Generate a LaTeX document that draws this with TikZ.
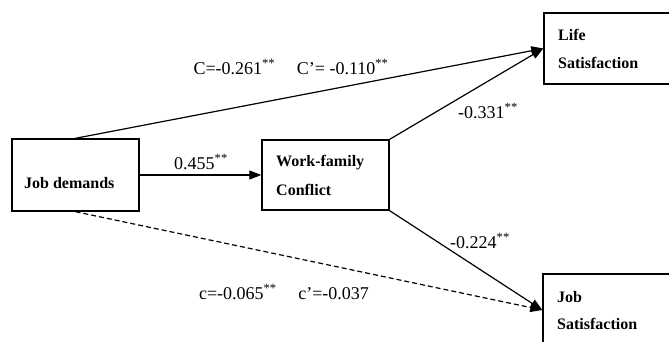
\documentclass[tikz,border=0pt]{standalone}
\usepackage{fontspec}
\setmainfont{Liberation Serif}
\usetikzlibrary{arrows.meta}
\newcommand{\sst}{\textsuperscript{**}}
\begin{document}
\begin{tikzpicture}[x=1pt,y=-1pt,
  box/.style={draw, line width=1.4pt, inner sep=0pt, rectangle},
  btxt/.style={anchor=west, inner sep=0pt, font=\fontsize{16}{18}\selectfont\bfseries},
  lbl/.style={anchor=center, inner sep=0pt, font=\fontsize{18}{20}\selectfont},
  conn/.style={line width=1.2pt, -{Triangle[length=12pt,width=9pt]}}
]
\useasboundingbox (0,0) rectangle (669,342);
% boxes
\node[box, minimum width=127pt, minimum height=72pt] (jd) at (75.5,175) {};
\node[box, minimum width=127pt, minimum height=70pt] (wf) at (325.5,175) {};
\node[box, minimum width=140pt, minimum height=71pt] (ls) at (614,48.5) {};
\node[box, minimum width=140pt, minimum height=72pt] (js) at (613,310) {};
% box texts
\node[btxt] (t1) at (24,183) {Job demands};
\node[btxt] (t2) at (276,163) {Work-family};
\node[btxt] (t3) at (276,190) {Conflict};
\node[btxt] (t4) at (558,35) {Life};
\node[btxt] (t5) at (558,63) {Satisfaction};
\node[btxt] (t6) at (557,297) {Job};
\node[btxt] (t7) at (557,324) {Satisfaction};
% connectors
\draw[conn] (jd.north) -- (ls.west);
\draw[conn] (wf.north east) -- (ls.west);
\draw[conn] (jd.east) -- (wf.west);
\draw[conn] (wf.south east) -- (js.west);
\draw[conn, dashed, dash pattern=on 5pt off 3pt] (jd.south) -- (js.west);
% labels
\node[lbl] (l1) at (291,67) {C=-0.261\sst\hspace{1.2em}C'= -0.110\sst};
\node[lbl] (l2) at (201,162) {0.455\sst};
\node[lbl] (l3) at (488,111) {-0.331\sst};
\node[lbl] (l4) at (480,241) {-0.224\sst};
\node[lbl] (l5) at (284,292) {c=-0.065\sst\hspace{1.2em}c'=-0.037};
\end{tikzpicture}
\end{document}
